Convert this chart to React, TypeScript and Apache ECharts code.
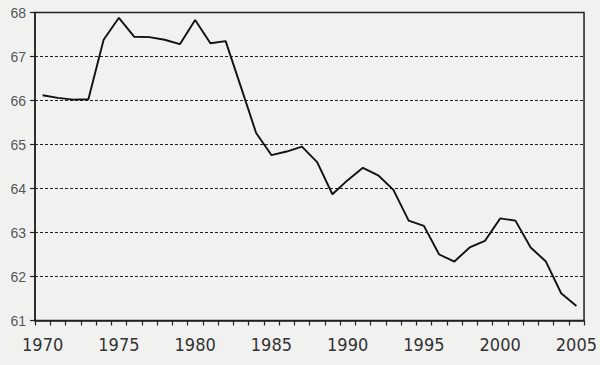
import React, { useEffect, useRef } from "react";
import * as echarts from "echarts";

const years: string[] = [
  "1970", "1971", "1972", "1973", "1974", "1975", "1976", "1977", "1978", "1979",
  "1980", "1981", "1982", "1983", "1984", "1985", "1986", "1987", "1988", "1989",
  "1990", "1991", "1992", "1993", "1994", "1995", "1996", "1997", "1998", "1999",
  "2000", "2001", "2002", "2003", "2004", "2005",
];

const values: number[] = [
  66.12, 66.06, 66.02, 66.03, 67.38, 67.88, 67.45, 67.44, 67.38, 67.28,
  67.83, 67.3, 67.35, 66.31, 65.26, 64.76, 64.84, 64.95, 64.6, 63.87,
  64.19, 64.47, 64.3, 63.97, 63.27, 63.15, 62.5, 62.34, 62.66, 62.81,
  63.32, 63.27, 62.66, 62.34, 61.62, 61.33,
];

const yMin = 61;
const yMax = 68;
const yStep = 1;

export default function App() {
  const ref = useRef<HTMLDivElement>(null);

  useEffect(() => {
    if (!ref.current) return;
    const chart = echarts.init(ref.current, null, { renderer: "svg" });
    chart.setOption({
      animation: false,
      backgroundColor: "#f1f1f0",
      textStyle: { fontFamily: "Liberation Sans, Arial, sans-serif" },
      grid: {
        left: 35,
        right: 15,
        top: 12.5,
        bottom: 44.5,
        show: true,
        borderColor: "#222",
        borderWidth: 1.5,
        backgroundColor: "transparent",
      },
      xAxis: {
        type: "category",
        data: years,
        boundaryGap: true,
        axisLine: { lineStyle: { color: "#222", width: 1.5 } },
        axisTick: {
          show: true,
          interval: 0,
          alignWithLabel: false,
          length: 5,
          lineStyle: { color: "#222", width: 1.2 },
        },
        axisLabel: {
          interval: 4,
          color: "#333",
          fontFamily: "Liberation Sans Narrow, DejaVu Sans Condensed, sans-serif",
          fontSize: 18,
          margin: 15,
        },
        splitLine: { show: false },
      },
      yAxis: {
        type: "value",
        min: yMin,
        max: yMax,
        interval: yStep,
        axisLine: { show: true, lineStyle: { color: "#222", width: 1.5 } },
        axisTick: { show: true, length: 5, lineStyle: { color: "#222", width: 1.2 } },
        axisLabel: { color: "#555", fontSize: 14, margin: 9 },
        splitLine: {
          show: true,
          lineStyle: { color: "#222", type: [3, 2], width: 1.2 },
        },
      },
      series: [
        {
          type: "line",
          data: values,
          symbol: "none",
          lineStyle: { color: "#111", width: 1.9 },
        },
      ],
    });
    return () => chart.dispose();
  }, []);

  return (
    <div
      ref={ref}
      style={{ width: 600, height: 365, position: "absolute", left: 0, top: 0 }}
    />
  );
}
